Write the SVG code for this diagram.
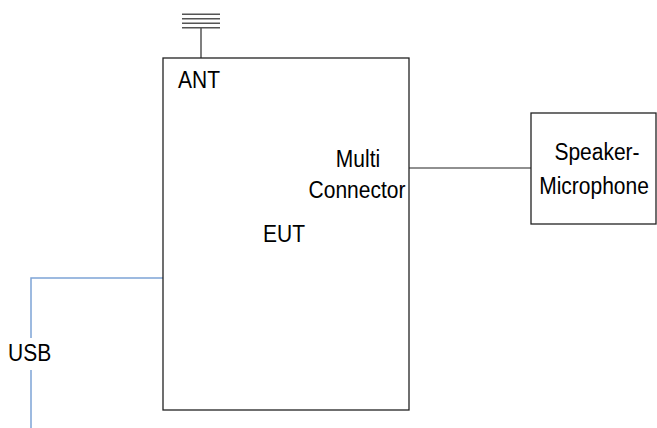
<svg xmlns="http://www.w3.org/2000/svg" width="657" height="428" viewBox="0 0 657 428">
<style>
.box{fill:#fff;stroke:#222;stroke-width:1.3}
.ln{stroke:#222;stroke-width:1.2;fill:none}
.ant{stroke:#555;stroke-width:1.5;fill:none}
.usb{stroke:#7ea4d6;stroke-width:1.5;fill:none}
.t{font-family:"Liberation Sans",Arial,sans-serif;font-size:21px;fill:#000}
</style>
<rect width="657" height="428" fill="#fff"/>
<g id="connectors">
<path class="ln" d="M409 168H531"/>
<path class="usb" d="M163 278H31V338M31 370V428"/>
</g>
<g id="antenna">
<path class="ant" d="M182 14.3H220M182 18.8H220M182 23.3H220M182 27.7H220M201 27.7V58"/>
</g>
<g id="eut">
<rect class="box" x="163" y="58" width="246" height="352"/>
<text class="t" transform="translate(178,88) scale(1,1.14)">ANT</text>
<text class="t" text-anchor="middle" transform="translate(358,167) scale(1,1.14)">Multi</text>
<text class="t" text-anchor="middle" transform="translate(357,198) scale(1,1.14)">Connector</text>
<text class="t" transform="translate(263,242) scale(1,1.14)">EUT</text>
</g>
<g id="speaker">
<rect class="box" x="531" y="113" width="125" height="111"/>
<text class="t" text-anchor="middle" transform="translate(597,160) scale(1,1.14)">Speaker-</text>
<text class="t" text-anchor="middle" transform="translate(594,194) scale(1,1.14)">Microphone</text>
</g>
<g id="usb">
<text class="t" transform="translate(8,361) scale(1,1.14)">USB</text>
</g>
</svg>
